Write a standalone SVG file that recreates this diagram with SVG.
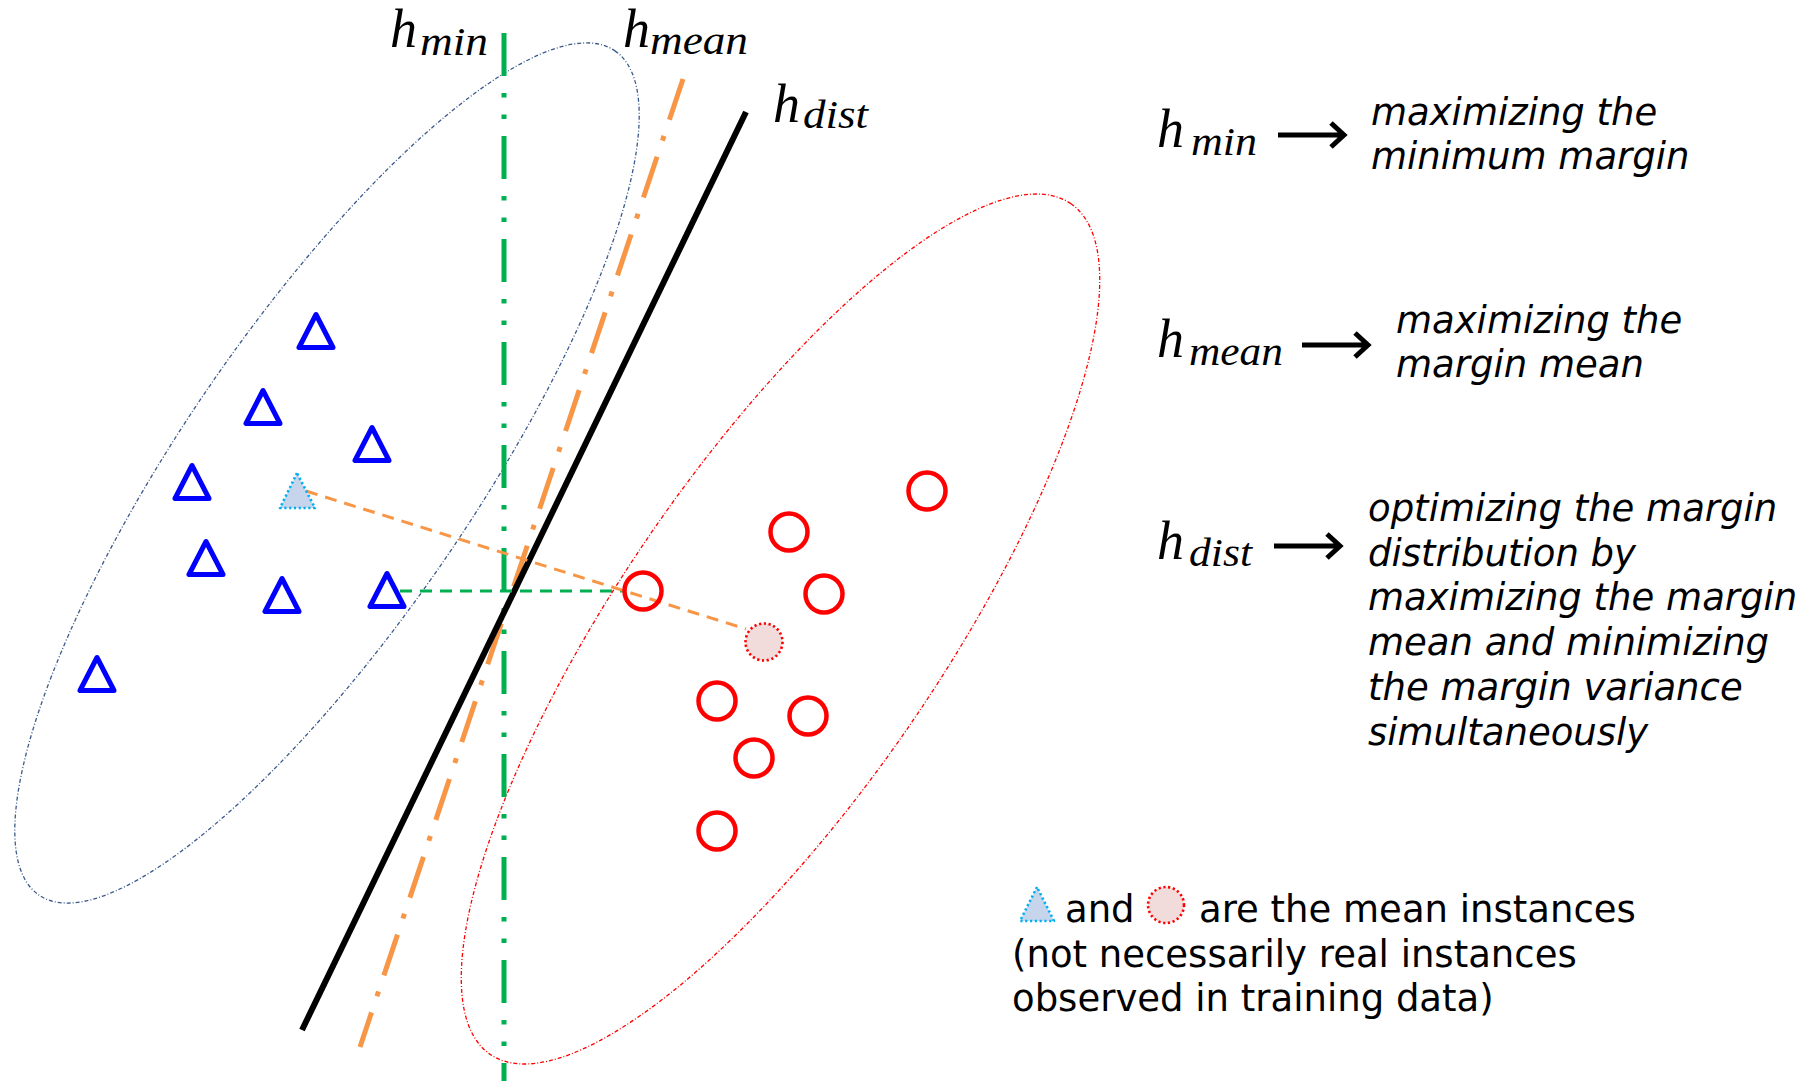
<svg xmlns="http://www.w3.org/2000/svg" width="1814" height="1081" viewBox="0 0 1814 1081">
<defs>
<style>
.tri{fill:none;stroke:#0000ff;stroke-width:5;stroke-linejoin:round}
.cir{fill:none;stroke:#ff0000;stroke-width:4.5}
.mtri{fill:#c6d5eb;stroke:#00b0f0;stroke-width:2.6;stroke-dasharray:2.2 2.6;stroke-linejoin:round}
.mcir{fill:#f2dcdb;stroke:#ff0000;stroke-width:2.6;stroke-dasharray:2.2 2.6}
.hm{font-family:"Liberation Serif","DejaVu Serif",serif;font-style:italic;fill:#000}
.h{font-size:54px}
.sub{font-size:39px}
.desc{font-family:"DejaVu Sans","Liberation Sans",sans-serif;font-style:italic;font-size:37px;fill:#000}
.note{font-family:"DejaVu Sans","Liberation Sans",sans-serif;font-size:37px;fill:#000}
.arr{fill:none;stroke:#000;stroke-width:5}
</style>
</defs>
<rect width="1814" height="1081" fill="#fff"/>

<g id="regions">
<ellipse id="blue-region" cx="327" cy="473" rx="511" ry="146" transform="rotate(-55.7 327 473)" fill="none" stroke="#3b5a8c" stroke-width="1.3" stroke-dasharray="4 2 1 2"/>
<ellipse id="red-region" cx="780.5" cy="629" rx="515" ry="161" transform="rotate(-55.7 780.5 629)" fill="none" stroke="#ff0000" stroke-width="1.3" stroke-dasharray="4 2 1 2"/>
</g>

<g id="connectors">
<line id="h-min-line" x1="504" y1="33" x2="504" y2="1081" stroke="#00b050" stroke-width="5" stroke-dasharray="43 17 4.5 17 4.5 17"/>
<line id="h-mean-line" x1="683" y1="79" x2="360" y2="1047" stroke="#f79646" stroke-width="5" stroke-dasharray="43 17 5 17"/>
<line id="h-dist-line" x1="746" y1="112" x2="302" y2="1030" stroke="#000" stroke-width="6"/>
<line id="min-margin" x1="400" y1="591" x2="623" y2="591" stroke="#00b050" stroke-width="3" stroke-dasharray="12 8"/>
<line id="mean-link" x1="306" y1="491" x2="746" y2="629" stroke="#f79646" stroke-width="3" stroke-dasharray="12 8"/>
<path id="arrow-min" class="arr" d="M1278 135 H1343 M1331 123 L1344 135 L1331 147"/>
<path id="arrow-mean" class="arr" d="M1302 345 H1367 M1355 333 L1368 345 L1355 357"/>
<path id="arrow-dist" class="arr" d="M1274 546 H1339 M1327 534 L1340 546 L1327 558"/>
</g>

<g id="triangles">
<polygon id="t1" class="tri" points="316,314.5 299,347.5 333,347.5"/>
<polygon id="t2" class="tri" points="263,390.5 246,423.5 280,423.5"/>
<polygon id="t3" class="tri" points="372,427.5 355,460.5 389,460.5"/>
<polygon id="t4" class="tri" points="192,465.5 175,498.5 209,498.5"/>
<polygon id="t6" class="tri" points="206,541.5 189,574.5 223,574.5"/>
<polygon id="t7" class="tri" points="282,578.5 265,611.5 299,611.5"/>
<polygon id="t8" class="tri" points="387,573.5 370,606.5 404,606.5"/>
<polygon id="t9" class="tri" points="97,657.5 80,690.5 114,690.5"/>
<polygon id="t-mean" class="mtri" points="297,473 280,508 315,508"/>
</g>

<g id="circles">
<circle id="c1" class="cir" cx="927" cy="491" r="18.5"/>
<circle id="c2" class="cir" cx="789" cy="532" r="18.5"/>
<circle id="c3" class="cir" cx="643" cy="591" r="18.5"/>
<circle id="c4" class="cir" cx="824" cy="594" r="18.5"/>
<circle id="c5" class="cir" cx="717" cy="701" r="18.5"/>
<circle id="c6" class="cir" cx="808" cy="716" r="18.5"/>
<circle id="c7" class="cir" cx="754" cy="758" r="18.5"/>
<circle id="c8" class="cir" cx="717" cy="831" r="18.5"/>
<circle id="c-mean" class="mcir" cx="764" cy="642" r="18.5"/>
</g>

<g id="line-labels" class="hm">
<g id="label-hmin"><text class="h" x="390" y="47">h</text><text class="sub" x="420" y="55" textLength="68" lengthAdjust="spacingAndGlyphs">min</text></g>
<g id="label-hmean"><text class="h" x="623" y="47">h</text><text class="sub" x="650" y="54" textLength="98" lengthAdjust="spacingAndGlyphs">mean</text></g>
<g id="label-hdist"><text class="h" x="773" y="122">h</text><text class="sub" x="803" y="128" textLength="65" lengthAdjust="spacingAndGlyphs">dist</text></g>
</g>

<g id="legend-min">
<text class="hm h" x="1157" y="147">h</text><text class="hm sub" x="1191" y="155" textLength="66" lengthAdjust="spacingAndGlyphs">min</text>
<text class="desc" x="1371" y="125">maximizing the</text>
<text class="desc" x="1371" y="169">minimum margin</text>
</g>

<g id="legend-mean">
<text class="hm h" x="1157" y="357">h</text><text class="hm sub" x="1189" y="365" textLength="94" lengthAdjust="spacingAndGlyphs">mean</text>
<text class="desc" x="1396" y="333">maximizing the</text>
<text class="desc" x="1396" y="377">margin mean</text>
</g>

<g id="legend-dist">
<text class="hm h" x="1157" y="559">h</text><text class="hm sub" x="1189" y="566" textLength="63" lengthAdjust="spacingAndGlyphs">dist</text>
<text class="desc" x="1368" y="521">optimizing the margin</text>
<text class="desc" x="1368" y="566">distribution by</text>
<text class="desc" x="1368" y="610">maximizing the margin</text>
<text class="desc" x="1368" y="655">mean and minimizing</text>
<text class="desc" x="1368" y="700">the margin variance</text>
<text class="desc" x="1368" y="745">simultaneously</text>
</g>

<g id="note">
<polygon id="note-tri" class="mtri" points="1037,887 1020,921 1054,921"/>
<circle id="note-cir" class="mcir" cx="1166" cy="905" r="18"/>
<text class="note" x="1065" y="922">and</text>
<text class="note" x="1199" y="922">are the mean instances</text>
<text class="note" x="1012" y="967">(not necessarily real instances</text>
<text class="note" x="1012" y="1011">observed in training data)</text>
</g>
</svg>
